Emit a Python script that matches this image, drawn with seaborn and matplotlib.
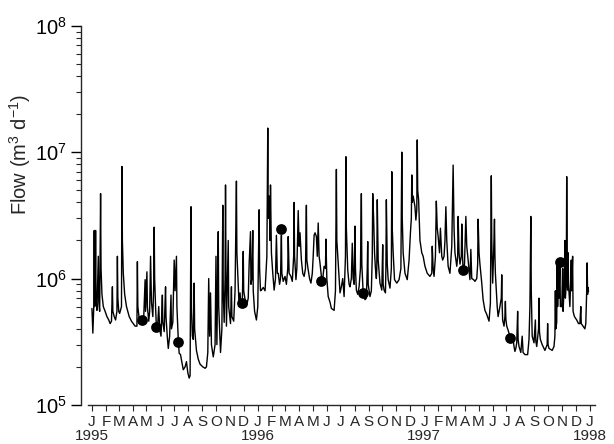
import numpy as np
import pandas as pd
import matplotlib
matplotlib.use("Agg")
import matplotlib.pyplot as plt
import matplotlib.dates as mdates
import matplotlib.ticker as mticker
import seaborn as sns

# flow record (m3/d) at its turning points
# day = days since 1 Jan 1995
day_1995 = [0, 2, 4, 5, 6, 7, 8, 9, 11, 14,
            15, 17, 19, 20, 22, 25, 29, 33, 37, 40,
            43, 45, 46, 49, 52, 55, 56, 57, 59, 61,
            65, 66, 67, 69, 72, 76, 82, 87, 95, 99,
            100, 101, 104, 106, 110, 114, 117, 118, 121, 122,
            125, 127, 129, 131, 134, 136, 137, 138, 140, 142,
            145, 147, 149, 152, 155, 156, 159, 162, 163, 166,
            168, 171, 174, 175, 178, 181, 183, 186, 187, 190,
            192, 195, 197, 201, 205, 208, 211, 214, 216, 218,
            219, 221, 223, 225, 226, 230, 234, 238, 244, 249,
            252, 255, 257, 259, 261, 263, 267, 271, 273, 275,
            278, 279, 283, 286, 288, 289, 291, 293, 294, 295,
            296, 300, 301, 305, 307, 308, 312, 315, 318, 319,
            322, 324, 326, 328, 331, 333, 334, 338, 340, 344,
            346, 349, 350, 352, 354, 355, 358, 362]
flow_1995 = [5.8e5, 3.7e5, 6.0e5, 2.4e6, 6.0e5, 6.5e5, 2.4e6, 7.0e5, 5.6e5, 1.5e6,
             6.5e5, 5.5e5, 4.7e6, 1.2e6, 7.5e5, 6.0e5, 5.5e5, 5.0e5, 4.7e5, 4.4e5,
             4.6e5, 8.6e5, 5.5e5, 5.0e5, 4.7e5, 5.5e5, 1.5e6, 7.0e5, 5.5e5, 5.3e5,
             6.0e5, 7.7e6, 2.0e6, 1.1e6, 7.5e5, 6.0e5, 5.0e5, 4.6e5, 4.2e5, 4.2e5,
             1.36e6, 6.0e5, 4.8e5, 4.6e5, 4.5e5, 5.0e5, 9.8e5, 5.5e5, 1.13e6, 6.0e5,
             4.6e5, 5.5e5, 1.5e6, 6.5e5, 5.0e5, 9.0e5, 2.55e6, 1.0e6, 6.0e5, 4.0e5,
             4.5e5, 6.0e5, 4.0e5, 3.5e5, 7.4e5, 4.5e5, 3.8e5, 8.6e5, 5.0e5, 3.4e5,
             2.8e5, 3.5e5, 7.4e5, 4.0e5, 4.5e5, 1.4e6, 8.0e5, 1.5e6, 6.0e5, 3.3e5,
             2.56e5, 2.5e5, 2.27e5, 1.9e5, 2.0e5, 2.2e5, 1.8e5, 1.63e5, 1.7e5, 3.7e6,
             6.0e5, 3.5e5, 3.3e5, 9.2e5, 4.0e5, 2.7e5, 2.3e5, 2.1e5, 2.0e5, 1.95e5,
             2.0e5, 2.6e5, 1.0e6, 3.5e5, 7.7e5, 3.0e5, 2.4e5, 3.0e5, 1.5e6, 3.0e5,
             2.35e6, 6.0e5, 2.6e5, 4.0e5, 3.8e6, 8.0e5, 4.5e5, 1.0e6, 5.5e6, 1.2e6,
             4.2e5, 2.0e6, 6.0e5, 4.4e5, 8.6e5, 5.0e5, 4.6e5, 8.0e5, 5.9e6, 1.6e6,
             9.0e5, 6.0e5, 7.7e5, 6.0e5, 6.5e5, 1.64e6, 8.0e5, 6.5e5, 6.0e5, 7.0e5,
             1.3e6, 2.35e6, 9.0e5, 1.0e6, 2.4e6, 8.0e5, 5.5e5, 4.7e5]

day_1996 = [365, 368, 369, 371, 373, 377, 381, 385, 387, 388,
            390, 392, 393, 395, 398, 401, 404, 406, 408, 410,
            413, 415, 417, 418, 421, 425, 428, 431, 432, 434,
            438, 441, 444, 445, 446, 449, 451, 454, 456, 458,
            461, 464, 467, 470, 472, 473, 476, 479, 482, 485,
            487, 489, 491, 494, 496, 498, 500, 502, 505, 508,
            511, 514, 515, 517, 520, 524, 527, 533, 536, 538,
            539, 542, 546, 549, 552, 555, 558, 559, 560, 563,
            566, 568, 571, 573, 575, 577, 579, 580, 582, 585,
            588, 591, 593, 594, 597, 601, 604, 606, 607, 608,
            612, 615, 617, 618, 620, 622, 624, 626, 627, 628,
            630, 634, 638, 640, 641, 643, 646, 647, 648, 650,
            652, 656, 659, 660, 661, 663, 666, 671, 676, 680,
            682, 683, 685, 689, 694, 698, 701, 703, 704, 705,
            707, 711, 713, 715, 716, 717, 719, 722, 726, 729]
flow_1996 = [6.0e5, 3.5e6, 1.2e6, 8.0e5, 8.1e5, 8.5e5, 8.0e5, 1.5e6, 1.55e7, 3.0e6,
             4.5e6, 2.0e6, 5.5e6, 1.6e6, 1.1e6, 8.1e5, 1.0e6, 2.2e6, 1.1e6, 1.1e6,
             9.0e5, 1.0e6, 2.2e6, 1.1e6, 9.5e5, 1.04e6, 9.0e5, 1.2e6, 2.15e6, 1.1e6,
             1.04e6, 9.5e5, 1.5e6, 4.0e6, 1.5e6, 9.8e5, 1.2e6, 3.45e6, 1.8e6, 2.3e6,
             1.4e6, 1.1e6, 1.04e6, 1.2e6, 3.8e6, 1.4e6, 1.17e6, 1.0e6, 9.2e5, 1.1e6,
             1.5e6, 2.2e6, 2.3e6, 2.15e6, 1.5e6, 2.75e6, 1.5e6, 1.32e6, 1.04e6, 1.0e6,
             1.25e6, 1.2e6, 2.05e6, 1.0e6, 7.2e5, 6.5e5, 5.8e5, 5.6e5, 8.0e5, 7.3e6,
             2.0e6, 1.32e6, 7.7e5, 8.6e5, 1.0e6, 7.2e5, 1.5e6, 9.2e6, 2.5e6, 1.17e6,
             9.0e5, 8.6e5, 1.0e6, 1.9e6, 1.0e6, 9.0e5, 2.6e6, 1.2e6, 8.1e5, 7.5e5,
             8.6e5, 1.2e6, 4.7e6, 1.3e6, 7.7e5, 6.8e5, 7.0e5, 1.2e6, 1.96e6, 9.0e5,
             7.2e5, 8.0e5, 1.5e6, 4.7e6, 3.0e6, 1.6e6, 1.2e6, 1.0e6, 1.2e6, 4.2e6,
             1.4e6, 9.2e5, 8.1e5, 1.85e6, 9.0e5, 8.1e5, 7.7e5, 1.2e6, 4.2e6, 1.3e6,
             9.8e5, 8.4e5, 1.2e6, 7.0e6, 2.5e6, 1.6e6, 9.8e5, 9.2e5, 9.8e5, 1.2e6,
             1.0e7, 3.0e6, 1.6e6, 1.1e6, 9.8e5, 1.4e6, 2.3e6, 3.0e6, 6.6e6, 4.0e6,
             4.5e6, 3.7e6, 2.9e6, 3.5e6, 1.25e7, 5.0e6, 4.2e6, 2.0e6, 1.6e6, 1.5e6]

day_1997 = [733, 738, 744, 748, 749, 751, 753, 756, 758, 760,
            762, 765, 767, 770, 772, 775, 777, 779, 781, 784,
            788, 792, 795, 797, 799, 803, 805, 806, 808, 810,
            813, 814, 816, 817, 820, 823, 825, 828, 832, 834,
            836, 840, 843, 847, 849, 850, 852, 854, 856, 858,
            861, 865, 869, 874, 877, 879, 880, 882, 884, 886,
            887, 888, 890, 892, 894, 898, 901, 902, 903, 904,
            907, 909, 910, 911, 913, 916, 920, 924, 927, 929,
            931, 933, 935, 937, 938, 940, 944, 947, 949, 953,
            959, 962, 964, 966, 967, 969, 973, 976, 977, 979,
            983, 984, 985, 987, 991, 997, 1002, 1003, 1004, 1006,
            1013, 1017, 1019, 1020, 1021, 1023, 1024, 1025, 1027, 1028,
            1030, 1031, 1034, 1036, 1037, 1039, 1040, 1041, 1042, 1044,
            1045, 1046, 1047, 1048, 1049, 1052, 1055, 1056, 1058, 1059,
            1062, 1067, 1071, 1074, 1076, 1077, 1081, 1085, 1087, 1089,
            1090, 1091, 1092, 1093]
flow_1997 = [1.25e6, 1.1e6, 1.04e6, 1.1e6, 1.8e6, 1.2e6, 1.04e6, 1.5e6, 4.1e6, 2.5e6,
             2.15e6, 1.6e6, 2.5e6, 1.5e6, 1.4e6, 1.5e6, 2.0e6, 3.7e6, 2.0e6, 1.25e6,
             1.1e6, 1.8e6, 7.9e6, 2.5e6, 1.6e6, 1.25e6, 1.5e6, 3.1e6, 1.6e6, 1.3e6,
             1.5e6, 2.7e6, 1.4e6, 1.17e6, 1.3e6, 3.1e6, 1.8e6, 1.4e6, 9.8e5, 1.7e6,
             1.0e6, 9.8e5, 9.5e5, 1.0e6, 1.3e6, 2.95e6, 1.6e6, 1.3e6, 1.1e6, 9.2e5,
             6.8e5, 5.6e5, 5.2e5, 4.6e5, 6.4e5, 6.5e6, 2.0e6, 9.2e5, 1.5e6, 2.95e6,
             1.5e6, 1.1e6, 8.0e5, 6.0e5, 5.0e5, 6.0e5, 7.0e5, 1.07e6, 6.0e5, 4.7e5,
             4.2e5, 5.0e5, 6.6e5, 4.8e5, 4.2e5, 3.9e5, 3.5e5, 3.4e5, 3.3e5, 2.9e5,
             2.65e5, 2.8e5, 3.1e5, 5.5e5, 3.3e5, 2.9e5, 2.6e5, 3.5e5, 2.6e5, 2.5e5,
             2.5e5, 3.3e5, 6.0e5, 3.1e6, 8.0e5, 3.5e5, 3.1e5, 4.7e5, 3.2e5, 2.9e5,
             4.0e5, 7.0e5, 3.8e5, 3.3e5, 3.0e5, 2.7e5, 3.0e5, 4.4e5, 3.0e5, 2.8e5,
             2.7e5, 2.9e5, 3.5e5, 8.0e5, 4.0e5, 4.5e5, 1.4e6, 6.0e5, 1.33e6, 7.0e5,
             1.4e6, 6.0e5, 6.0e5, 1.2e6, 5.5e5, 8.0e5, 1.2e6, 2.0e6, 7.0e5, 9.0e5,
             6.4e6, 1.5e6, 8.1e5, 1.6e6, 9.0e5, 6.0e5, 1.4e6, 8.0e5, 1.5e6, 5.5e5,
             5.0e5, 4.7e5, 4.4e5, 4.4e5, 6.0e5, 4.4e5, 4.2e5, 4.0e5, 4.4e5, 8.0e5,
             1.33e6, 7.5e5, 8.5e5, 7.9e5]

# sampling occasions (filled circles)
sample_day = [110, 141, 189, 330, 417, 505, 597, 816, 921, 1030]
sample_flow = [4.7e5, 4.15e5, 3.15e5, 6.4e5, 2.46e6, 9.5e5, 7.7e5, 1.17e6, 3.4e5, 1.36e6]

month_letters = ["J", "F", "M", "A", "M", "J", "J", "A", "S", "O", "N", "D"]

start = pd.Timestamp("1995-01-01")
rows = []
for d_list, f_list in [(day_1995, flow_1995), (day_1996, flow_1996), (day_1997, flow_1997)]:
    for d, f in zip(d_list, f_list, strict=True):
        rows.append((start + pd.Timedelta(days=d), f))
df = pd.DataFrame(rows, columns=["date", "flow"])
samples = pd.DataFrame({"date": start + pd.to_timedelta(sample_day, unit="D"),
                        "flow": sample_flow})

sns.set_style("ticks")
plt.rcParams["font.family"] = ["Liberation Sans", "DejaVu Sans"]
plt.rcParams["mathtext.fontset"] = "custom"
plt.rcParams["mathtext.rm"] = "Liberation Sans"
plt.rcParams["mathtext.it"] = "Liberation Sans:italic"
plt.rcParams["axes.linewidth"] = 1.0

fig = plt.figure(figsize=(6.14, 4.44), dpi=100)
ax = fig.add_axes([0.132, 0.088, 0.845, 0.854])

sns.lineplot(data=df, x="date", y="flow", color="black", linewidth=1.0,
             estimator=None, sort=False, ax=ax)
sns.scatterplot(data=samples, x="date", y="flow", color="black", s=60,
                edgecolor="black", linewidth=0, zorder=3, ax=ax)

ax.set_yscale("log")
ax.set_ylim(1e5, 1e8)
ax.set_xlim(pd.Timestamp("1994-12-08"), pd.Timestamp("1998-01-23"))

# y axis: decades with minor ticks
ax.yaxis.set_major_locator(mticker.LogLocator(base=10, numticks=10))
ax.yaxis.set_minor_locator(mticker.LogLocator(base=10, subs=np.arange(2, 10), numticks=10))
ax.yaxis.set_minor_formatter(mticker.NullFormatter())
ax.tick_params(axis="y", which="major", direction="out", length=7, width=1,
               labelsize=14.5, colors="black", pad=3)
ax.tick_params(axis="y", which="minor", direction="out", length=3.5, width=0.8)

# x axis: month initials, year under each January
def month_label(x, pos):
    return month_letters[mdates.num2date(x).month - 1]

def year_label(x, pos):
    return str(mdates.num2date(x).year)

ax.xaxis.set_major_locator(mdates.MonthLocator(bymonthday=1))
ax.xaxis.set_major_formatter(mticker.FuncFormatter(month_label))
ax.xaxis.set_minor_locator(mdates.YearLocator())
ax.xaxis.set_minor_formatter(mticker.FuncFormatter(year_label))
ax.xaxis.remove_overlapping_locs = False
ax.tick_params(axis="x", which="major", direction="out", length=4, width=0.8,
               labelsize=11, pad=3)
ax.tick_params(axis="x", which="minor", length=0, labelsize=11, pad=17)

ax.set_xlabel("")
ax.set_ylabel("Flow (m$^3$ d$^{-1}$)", fontsize=14.5)
ax.yaxis.set_label_coords(-0.092, 0.66)

sns.despine(ax=ax)
ax.spines["bottom"].set_bounds(mdates.date2num(pd.Timestamp("1994-12-24")),
                               mdates.date2num(pd.Timestamp("1998-01-12")))

fig.savefig("out.png", dpi=100)
